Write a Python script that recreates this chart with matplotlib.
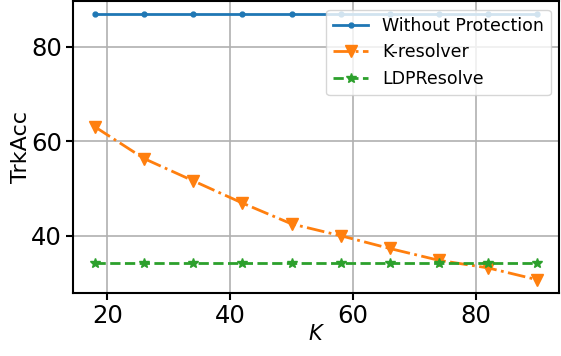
import numpy as np
import matplotlib
matplotlib.use("Agg")
import matplotlib.pyplot as plt

K = [18, 26, 34, 42, 50, 58, 66, 74, 82, 90]
without_protection = [86.8, 86.8, 86.8, 86.8, 86.8, 86.8, 86.8, 86.8, 86.8, 86.8]
k_resolver = [63.0, 56.3, 51.6, 46.9, 42.5, 40.0, 37.3, 34.8, 33.2, 30.7]
ldp_resolve = [34.2, 34.2, 34.2, 34.2, 34.2, 34.2, 34.2, 34.2, 34.2, 34.2]

fig, ax = plt.subplots(figsize=(5.61, 3.56), dpi=100)
fig.subplots_adjust(left=0.13, right=0.997, top=0.997, bottom=0.177)

ax.plot(K, without_protection, '-', marker='.', color='tab:blue', lw=2, ms=7,
        label='Without Protection')
ax.plot(K, k_resolver, '-.', marker='v', color='tab:orange', lw=2, ms=8,
        label='K-resolver')
ax.plot(K, ldp_resolve, '--', marker='*', color='tab:green', lw=2, ms=7,
        label='LDPResolve')

ax.grid(True, color='#b0b0b0', lw=1.2)
ax.set_xlabel('$K$', fontsize=15, labelpad=-3)
ax.set_ylabel('TrkAcc', fontsize=16, labelpad=0)
ax.tick_params(labelsize=17.5, width=1.5, length=5, pad=3)
for s in ax.spines.values():
    s.set_linewidth(1.5)
ax.legend(loc='upper right', fontsize=12.5)

fig.savefig('out.png', dpi=100)
